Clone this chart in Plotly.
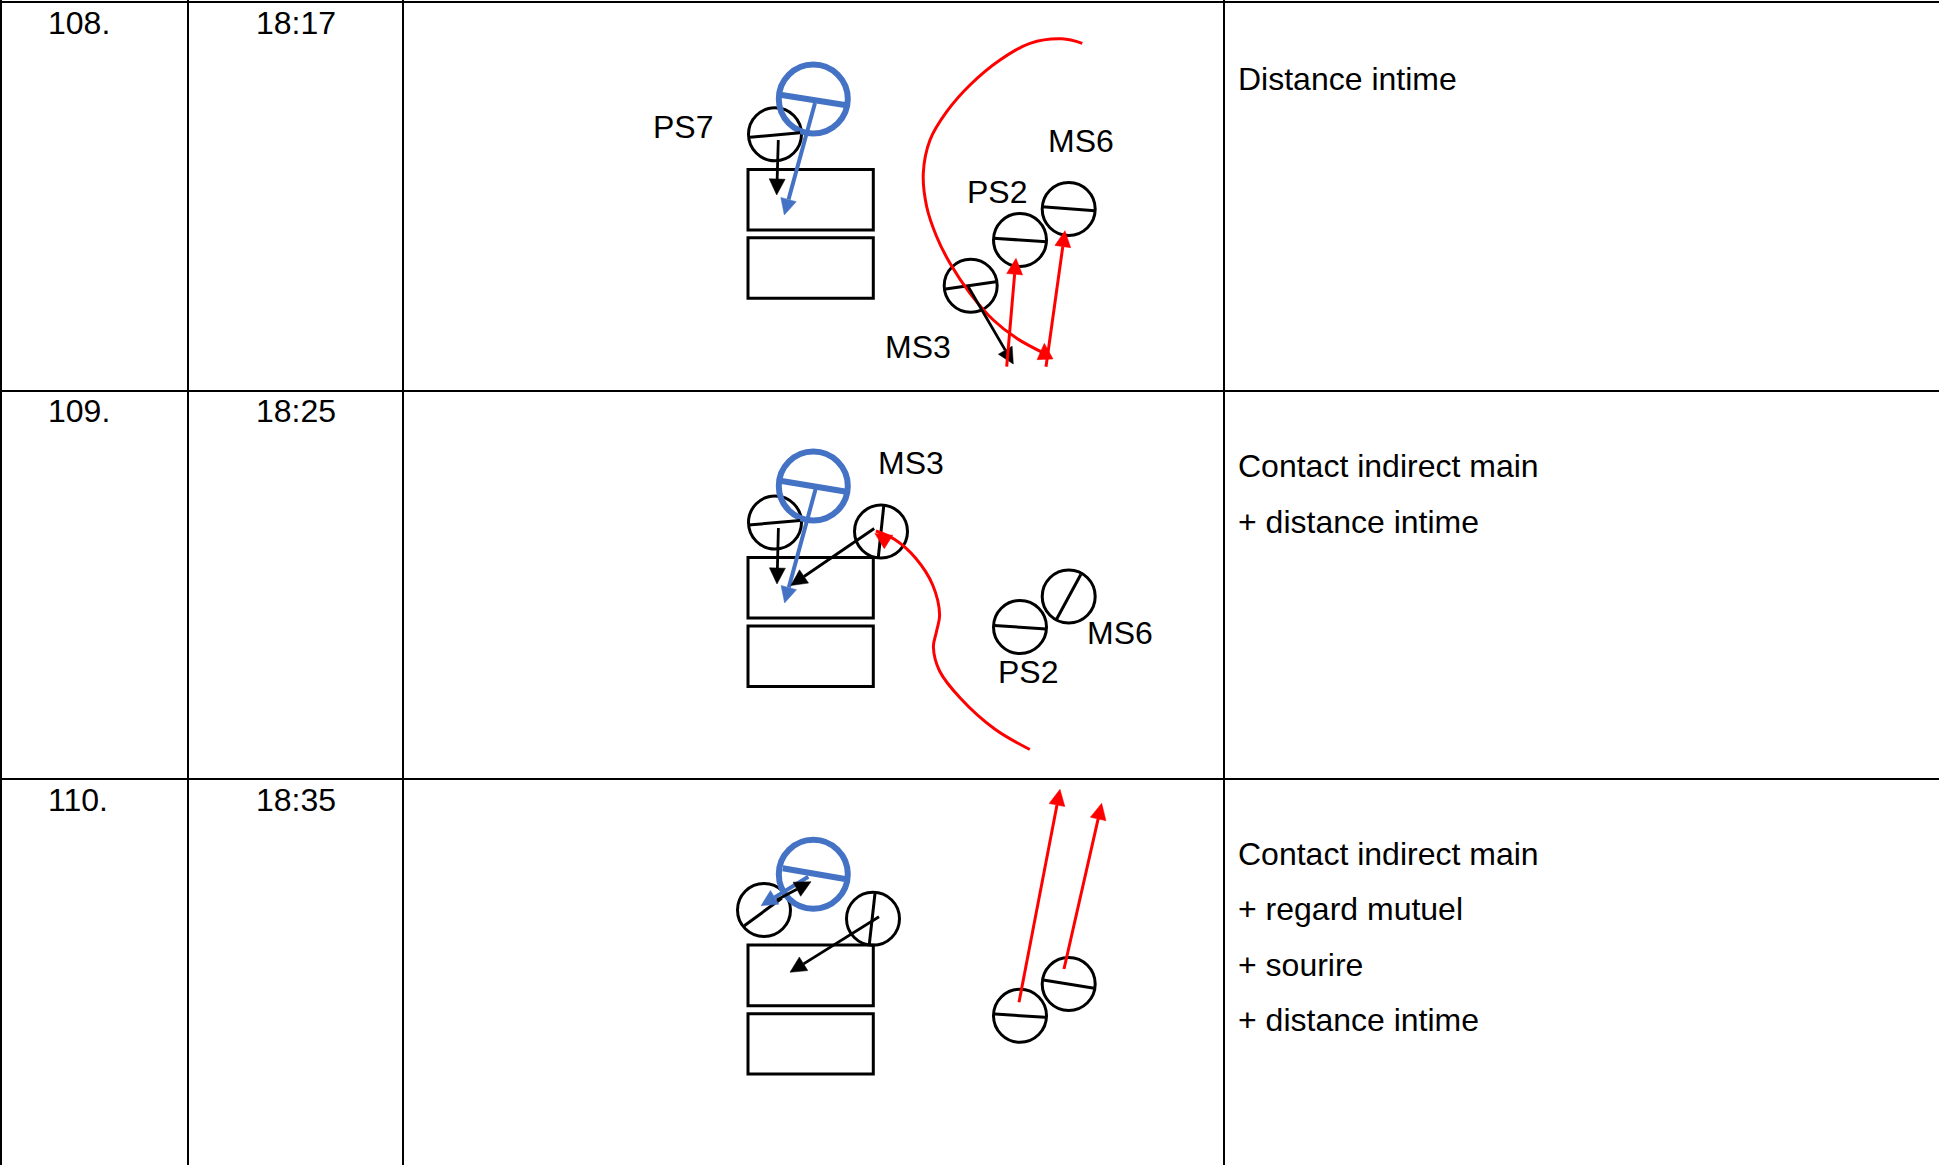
import math
import plotly.graph_objects as go

BLACK = "#000000"
BLUE = "#4472C4"
RED = "#FF0000"
FONT = "Liberation Sans"

# Table
GRID_X = [1, 188, 403, 1224]
GRID_Y = [2, 391, 779]
ROW_NUMBERS = ["108.", "109.", "110."]
ROW_TIMES = ["18:17", "18:25", "18:35"]
ROW_TEXT_Y = [22.7, 411.2, 800]
NOTES = ["Distance intime", "Contact indirect main", "+ distance intime",
         "Contact indirect main", "+ regard mutuel", "+ sourire", "+ distance intime"]
NOTES_Y = [79, 466, 522, 853.7, 909, 965, 1020]

# Tables drawn in each scene: x0, y0, x1, y1
RECTS = [
    (748, 169.5, 873.3, 230), (748, 237.7, 873.3, 298.3),
    (748, 557.5, 873.3, 618), (748, 626, 873.3, 686.5),
    (748, 945, 873.3, 1005.7), (748, 1013.7, 873.3, 1074),
]
# Figures: centre x, centre y
BLACK_CIRCLES = [
    (775, 134.3), (970.7, 285.7), (1020, 240), (1068.7, 209),
    (775, 522.5), (881, 531.5), (1020, 627), (1068.7, 596.5),
    (764, 910), (873, 918.7), (1020, 1015.7), (1068.7, 984),
]
BLUE_CIRCLES = [(813.3, 99), (813.3, 486), (813.3, 874.3)]
BLACK_RADIUS = 26.5
BLUE_RADIUS = 34.5

# Segments: x0, y0, x1, y1
BLACK_SEGMENTS = [
    (750, 137.3, 800, 132.7), (945.7, 289, 996, 281.7),
    (993.3, 238.3, 1046.7, 241.7), (1042.3, 206.7, 1095, 210.7),
    (748.5, 525, 800, 520.5), (883.8, 505.5, 878.3, 557.5),
    (994, 625.5, 1046.3, 629), (1080.8, 574.5, 1056.7, 619),
    (744.3, 925.7, 781.7, 898.3), (875, 893.3, 869.3, 944.3),
    (995, 1014, 1045, 1017.3), (1043.3, 980, 1094.3, 988.3),
]
BLUE_SEGMENTS = [(781.7, 95, 845, 105), (781.7, 481, 845, 491.5), (782.7, 868.3, 845, 879)]

# Arrows: x0, y0, tip x, tip y
BLACK_ARROWS = [
    (778.3, 140, 776.7, 195), (968.3, 286.7, 1013.3, 364),
    (778.4, 528, 777, 584), (874.2, 528.5, 790.8, 585.5),
    (776.7, 900, 811, 881.7), (879, 916.7, 790, 972.3),
]
BLUE_ARROWS = [(815, 103, 784.3, 215), (815.6, 489, 784.6, 603), (808.3, 876.7, 761, 905.7)]
RED_ARROWS = [
    (1006.7, 366.7, 1016, 258.3), (1046, 366.7, 1065, 230.7),
    (1019, 1002.3, 1060, 789.3), (1064, 969, 1101.7, 803.3),
]
RED_HEADS_ONLY = [(1045, 358.5, 1044.3, 343.3), (888.6, 542, 874.9, 533.5)]

# Red walking paths
PATH1_X = [1082.3, 1062, 1030, 1000, 970, 946.7, 930, 923.3, 926.7, 936.7, 950, 970, 993.3, 1016.7, 1044.3]
PATH1_Y = [43.3, 38.8, 43.3, 60, 85, 111.7, 140, 173.3, 206.7, 236.7, 263.3, 293.3, 320, 338.3, 353.3]
PATH2_X = [1029.8, 994.7, 960.2, 939.6, 933.4, 936.5, 939.6, 932.7, 915.5, 894.8, 875.9]
PATH2_Y = [749.5, 729, 698, 671, 647, 631.5, 615, 585, 558, 539.5, 531]

# Labels: text, centre x, centre y
LABELS = [
    ("PS7", 683.3, 126.7), ("MS6", 1081, 140.7), ("PS2", 997.3, 191.7), ("MS3", 917.7, 346.7),
    ("MS3", 911, 462.8), ("MS6", 1119.7, 633), ("PS2", 1028, 671.7),
]

fig = go.Figure()
shapes = []


def add_line(xs, ys, color, width, smooth=False):
    fig.add_trace(go.Scatter(
        x=xs, y=ys, mode="lines", hoverinfo="skip", showlegend=False,
        line=dict(color=color, width=width, shape="spline" if smooth else "linear", smoothing=1.0),
    ))


def add_head(x0, y0, x1, y1, color, length=16, half=8):
    d = math.hypot(x1 - x0, y1 - y0)
    ux, uy = (x1 - x0) / d, (y1 - y0) / d
    bx, by = x1 - ux * length, y1 - uy * length
    fig.add_trace(go.Scatter(
        x=[x1, bx - uy * half, bx + uy * half, x1],
        y=[y1, by + ux * half, by - ux * half, y1],
        mode="lines", fill="toself", fillcolor=color, hoverinfo="skip", showlegend=False,
        line=dict(color=color, width=0.5),
    ))
    return bx, by


def add_arrow(seg, color, width):
    x0, y0, x1, y1 = seg
    bx, by = add_head(x0, y0, x1, y1, color)
    add_line([x0, bx], [y0, by], color, width)


for x in GRID_X:
    shapes.append(dict(type="line", layer="below", x0=x, x1=x, y0=0, y1=1165,
                       line=dict(color=BLACK, width=2)))
for y in GRID_Y:
    shapes.append(dict(type="line", layer="below", x0=0, x1=1939, y0=y, y1=y,
                       line=dict(color=BLACK, width=2)))
for r in RECTS:
    shapes.append(dict(type="rect", layer="below", x0=r[0], y0=r[1], x1=r[2], y1=r[3],
                       line=dict(color=BLACK, width=3)))
for cx, cy in BLACK_CIRCLES:
    shapes.append(dict(type="circle", layer="below", x0=cx - BLACK_RADIUS, x1=cx + BLACK_RADIUS,
                       y0=cy - BLACK_RADIUS, y1=cy + BLACK_RADIUS, line=dict(color=BLACK, width=3)))
for cx, cy in BLUE_CIRCLES:
    shapes.append(dict(type="circle", layer="below", x0=cx - BLUE_RADIUS, x1=cx + BLUE_RADIUS,
                       y0=cy - BLUE_RADIUS, y1=cy + BLUE_RADIUS, line=dict(color=BLUE, width=6)))

for s in BLACK_SEGMENTS:
    add_line([s[0], s[2]], [s[1], s[3]], BLACK, 3)
for s in BLUE_SEGMENTS:
    add_line([s[0], s[2]], [s[1], s[3]], BLUE, 6)
add_line(PATH1_X, PATH1_Y, RED, 3, smooth=True)
add_line(PATH2_X, PATH2_Y, RED, 3, smooth=True)
for a in BLUE_ARROWS:
    add_arrow(a, BLUE, 4)
for a in BLACK_ARROWS:
    add_arrow(a, BLACK, 2.8)
for a in RED_ARROWS:
    add_arrow(a, RED, 3)
for a in RED_HEADS_ONLY:
    add_head(*a, RED)

annotations = []


def add_text(text, x, y, anchor="left", size=32):
    annotations.append(dict(text=text, x=x, y=y, xref="x", yref="y", xanchor=anchor, yanchor="middle",
                            showarrow=False, borderpad=0, font=dict(family=FONT, size=size, color=BLACK)))


for t, y in zip(ROW_NUMBERS, ROW_TEXT_Y):
    add_text(t, 47, y)
for t, y in zip(ROW_TIMES, ROW_TEXT_Y):
    add_text(t, 255, y)
for t, y in zip(NOTES, NOTES_Y):
    add_text(t, 1237, y)
for t, x, y in LABELS:
    add_text(t, x, y, anchor="center", size=32)

fig.update_layout(
    width=1939, height=1165, margin=dict(l=0, r=0, t=0, b=0),
    paper_bgcolor="white", plot_bgcolor="white", showlegend=False,
    xaxis=dict(range=[0, 1939], visible=False, fixedrange=True),
    yaxis=dict(range=[1165, 0], visible=False, fixedrange=True),
    shapes=shapes, annotations=annotations,
)
fig.write_html("out.html", config={"displayModeBar": False},
               post_script="document.body.style.margin='0';document.body.style.overflow='hidden';")
